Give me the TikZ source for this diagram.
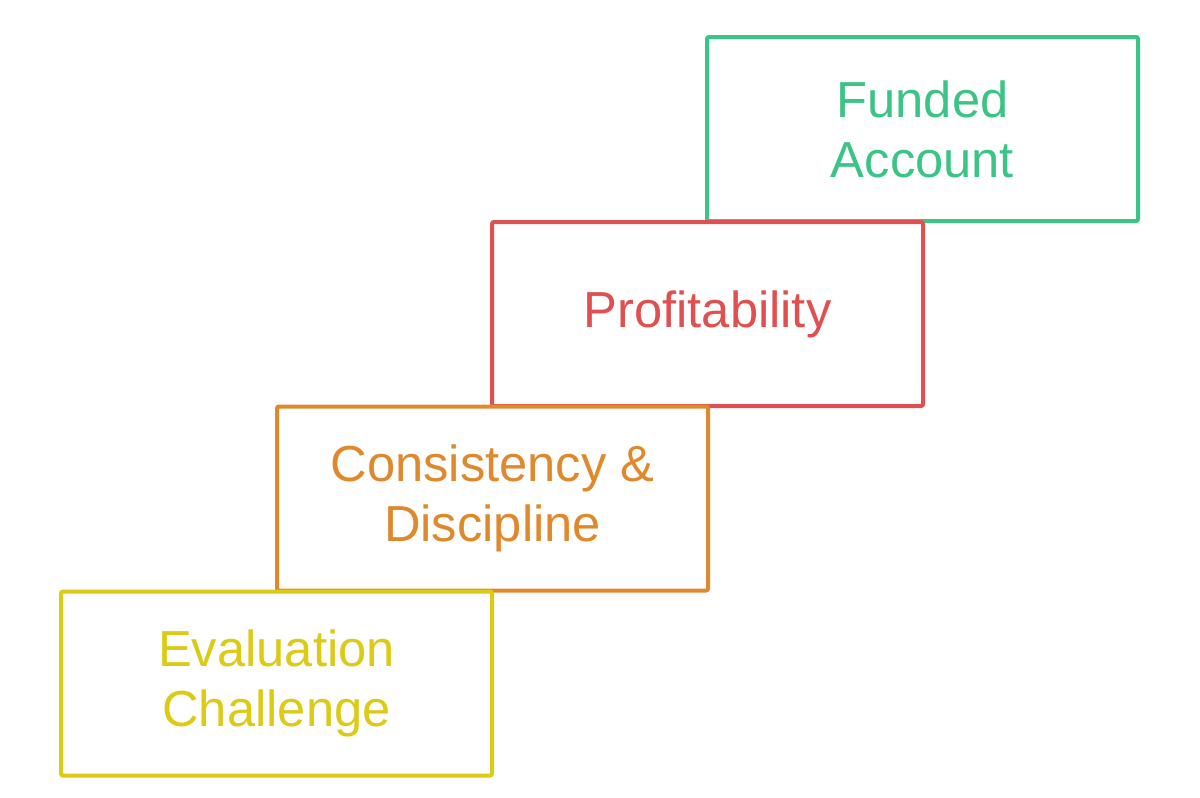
\documentclass[tikz,border=0pt]{standalone}
\usepackage{fontspec}
\setmainfont{Liberation Sans}
\definecolor{cgreen}{RGB}{58,196,134}
\definecolor{cred}{RGB}{224,80,80}
\definecolor{corange}{RGB}{224,136,44}
\definecolor{cyellow}{RGB}{220,202,20}
\begin{document}
\begin{tikzpicture}[x=0.75pt,y=-0.75pt,
  stepbox/.style={draw=#1, text=#1, fill=white, line width=3pt, rounded corners=1.5pt,
    minimum width=323.25pt, minimum height=138pt, inner sep=0pt, align=center,
    font=\fontsize{38}{45}\selectfont}]
\useasboundingbox (0,0) rectangle (1200,797);
\node[stepbox=cgreen] (funded) at (922.5,129) {Funded\\Account};
\node[stepbox=cred] (profit) at (707.5,314) {Profitability};
\node[stepbox=corange] (consist) at (492.5,498.5) {Consistency \&\\Discipline};
\node[stepbox=cyellow] (eval) at (276.5,683.5) {Evaluation\\Challenge};
\end{tikzpicture}
\end{document}
